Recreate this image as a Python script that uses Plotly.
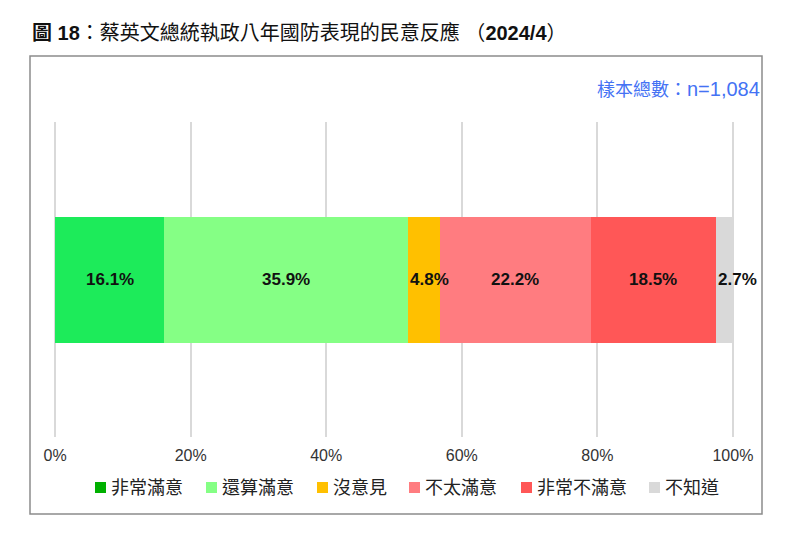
"""Stacked single-bar survey chart: public response to eight years of defence policy."""

import plotly.graph_objects as go

W, H = 800, 543
L, R, T, B = 54, 734, 122, 437  # plot area in page pixels, 1px wider each side for the end gridlines

CJK = "Liberation Sans, Noto Sans CJK TC, sans-serif"

categories = ["非常滿意", "還算滿意", "沒意見", "不太滿意", "非常不滿意", "不知道"]
values = [16.1, 35.9, 4.8, 22.2, 18.5, 2.7]
labels = ["16.1%", "35.9%", "4.8%", "22.2%", "18.5%", "2.7%"]
bar_colors = ["#1DEB5A", "#85FF85", "#FFC000", "#FF7C80", "#FF5757", "#D9D9D9"]
key_colors = ["#00B000", "#85FF85", "#FFC000", "#FF7C80", "#FF5757", "#D9D9D9"]
anchors = ["center", "center", "left", "center", "center", "left"]
tick_vals = [0, 20, 40, 60, 80, 100]
tick_text = ["0%", "20%", "40%", "60%", "80%", "100%"]
key_x = [95, 206, 317, 409, 521, 649]


def px_x(x):
    return (x - L) / (R - L)


def px_y(y):
    return (B - y) / (B - T)


fig = go.Figure()
shapes = [dict(type="rect", xref="paper", yref="paper", x0=px_x(30), x1=px_x(762),
               y0=px_y(514), y1=px_y(56), line=dict(color="#8C8C8C", width=1.5), layer="below")]
annotations = []

start = 0
for name, val, lab, col, anc in zip(categories, values, labels, bar_colors, anchors):
    fig.add_trace(go.Bar(x=[val], y=["n"], orientation="h", name=name,
                         marker=dict(color=col, line_width=0), showlegend=False))
    # Labels are annotations: the narrow segments' labels spill over their neighbours
    annotations.append(dict(
        text=lab, xref="x", yref="y", y="n", showarrow=False, yanchor="middle", xanchor=anc,
        x=start + val / 2 if anc == "center" else start,
        font=dict(family="Liberation Sans", size=17, color="#111111", weight="bold"),
    ))
    start += val

# Hand-placed legend: the key colour of the first entry differs from its bar
for name, col, kx in zip(categories, key_colors, key_x):
    shapes.append(dict(type="rect", xref="paper", yref="paper", x0=px_x(kx), x1=px_x(kx + 11),
                       y0=px_y(493), y1=px_y(482), fillcolor=col, line_width=0))
    annotations.append(dict(text=name, xref="paper", yref="paper", x=px_x(kx + 14), y=px_y(488),
                            xanchor="left", yanchor="middle", showarrow=False,
                            font=dict(family=CJK, size=18, color="#222222")))
annotations.append(dict(text='樣本總數：<span style="font-size:20px">n=1,084</span>',
                        xref="paper", yref="paper", x=px_x(762), y=px_y(89),
                        xanchor="right", yanchor="middle", showarrow=False,
                        font=dict(family=CJK, size=18, color="#4472F4")))

fig.update_layout(
    width=W, height=H, autosize=False, barmode="stack", bargap=0.6,
    margin=dict(l=L, r=W - R, t=T, b=H - B),
    paper_bgcolor="white", plot_bgcolor="white",
    title=dict(text="<b>圖 18</b>：蔡英文總統執政八年國防表現的民意反應 （<b>2024/4</b>）",
               xref="container", yref="container", x=32 / W, y=1 - 33 / H,
               xanchor="left", yanchor="middle",
               font=dict(family=CJK, size=20, color="#111111")),
    # Range runs just past 0 and 100 so plotly keeps the gridlines at both ends
    xaxis=dict(range=[-0.16, 100.16], tickvals=tick_vals, ticktext=tick_text, showgrid=True,
               gridcolor="#D9D9D9", gridwidth=2, zeroline=False, showline=False,
               ticks="outside", ticklen=4, tickcolor="rgba(0,0,0,0)",
               tickfont=dict(family="Liberation Sans", size=16, color="#333333")),
    yaxis=dict(visible=False),
    shapes=shapes, annotations=annotations,
)

fig.write_html("out.html", config=dict(displayModeBar=False),
               post_script="document.body.style.margin='0';")
